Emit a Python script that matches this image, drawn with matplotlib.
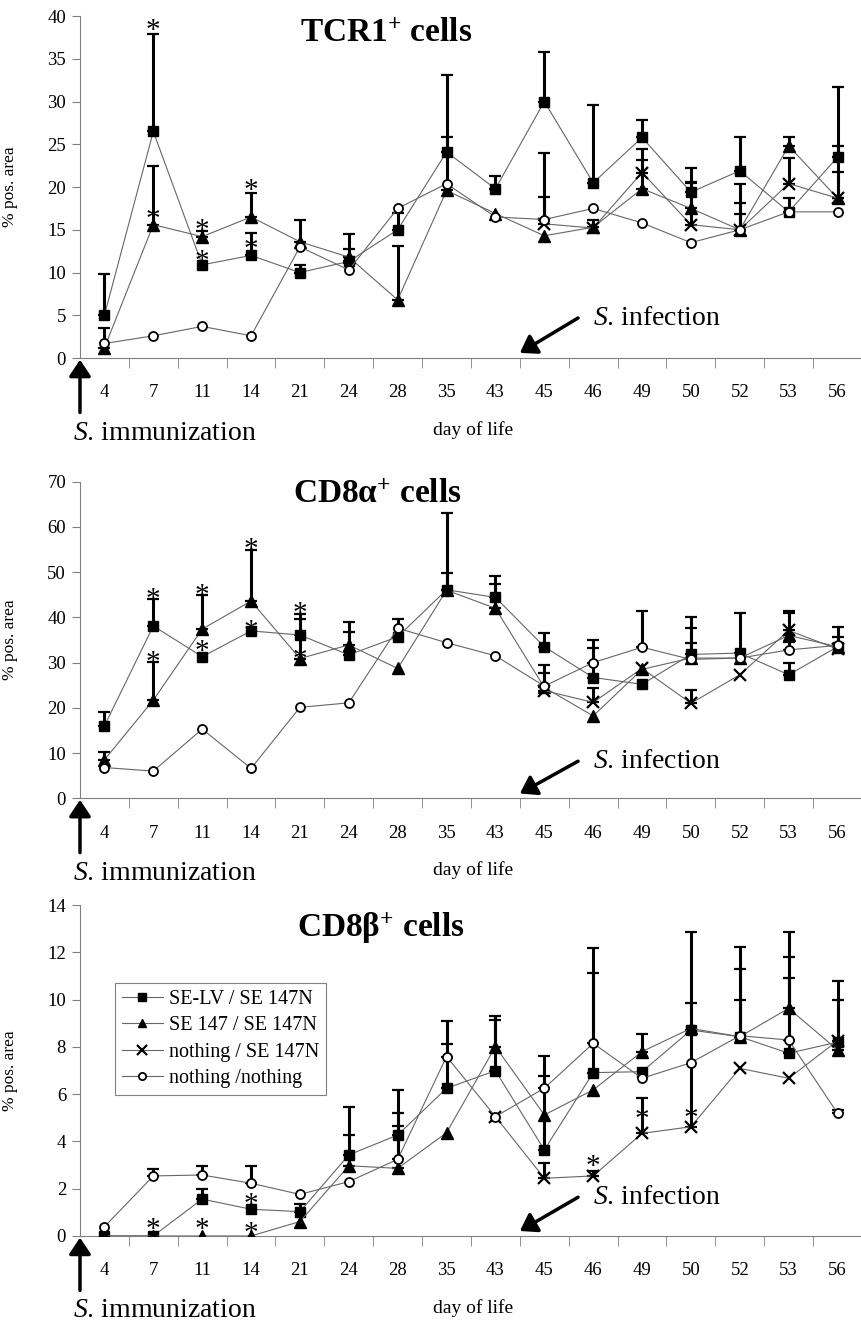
import numpy as np
import matplotlib
matplotlib.use('Agg')
import matplotlib.pyplot as plt

plt.rcParams['font.family'] = ['Liberation Serif', 'DejaVu Serif']
plt.rcParams['mathtext.fontset'] = 'custom'
plt.rcParams['mathtext.rm'] = 'Liberation Serif'
plt.rcParams['mathtext.it'] = 'Liberation Serif:italic'
plt.rcParams['mathtext.bf'] = 'Liberation Serif:bold'

nan = np.nan

days = ['4', '7', '11', '14', '21', '24', '28', '35', '43', '45', '46', '49', '50', '52', '53', '56']
groups = ['SE-LV / SE 147N', 'SE 147 / SE 147N', 'nothing / SE 147N', 'nothing /nothing']

# TCR1+ cells: means and upper error bar ends
tcr_selv = [5.0, 26.5, 10.9, 12.0, 10.0, 11.3, 15.0, 24.1, 19.8, 30.0, 20.5, 25.8, 19.4, 21.9, 17.1, 23.5]
tcr_selv_top = [9.8, 37.9, nan, 14.6, 10.9, 12.7, 17.0, 33.1, 21.3, 35.8, 29.6, 27.9, 22.2, 25.8, nan, 31.7]
tcr_se147 = [1.2, 15.6, 14.2, 16.5, 13.6, 11.8, 6.8, 19.6, 16.9, 14.3, 15.3, 19.8, 17.5, 15.0, 24.8, 18.7]
tcr_se147_top = [3.5, 22.5, 14.9, 19.3, 16.2, 14.5, 13.1, 25.8, nan, nan, 16.1, 23.2, 20.5, 20.4, 25.8, 24.8]
tcr_noth_se = [nan] * 9 + [15.7, 15.2, 21.7, 15.6, 15.0, 20.4, 18.7]
tcr_noth_se_top = [nan] * 9 + [24.0, nan, 24.5, 20.6, 18.1, 23.4, 21.8]
tcr_noth = [1.7, 2.6, 3.7, 2.6, 13.0, 10.3, 17.5, 20.4, 16.5, 16.2, 17.5, 15.8, 13.5, 15.0, 17.1, 17.1]
tcr_noth_top = [nan] * 9 + [18.8, nan, nan, nan, 16.9, 18.7, nan]
tcr_star_days = ['7', '7', '11', '11', '14', '14']
tcr_star_y = [39.5, 17.3, 16.1, 12.4, 20.8, 13.8]

# CD8alpha+ cells
cd8a_selv = [16.0, 38.1, 31.3, 37.0, 36.1, 31.7, 35.7, 46.1, 44.4, 33.5, 26.7, 25.2, 31.8, 32.1, 27.3, 33.5]
cd8a_selv_top = [19.1, 44.0, nan, nan, 40.7, 36.8, 39.6, 63.1, 49.1, 36.5, 35.0, nan, 40.0, 40.9, 30.0, 37.9]
cd8a_se147 = [8.5, 21.7, 37.4, 43.6, 30.9, 33.9, 28.7, 46.0, 42.0, 24.5, 18.2, 28.5, 31.0, 31.0, 36.0, 33.5]
cd8a_se147_top = [10.3, 30.2, 44.9, 55.0, 39.6, 39.0, nan, 49.7, 47.4, 29.5, nan, nan, 37.7, nan, 41.0, 35.7]
cd8a_noth_se = [nan] * 9 + [23.8, 21.2, 28.7, 21.0, 27.3, 37.1, 33.0]
cd8a_noth_se_top = [nan] * 9 + [27.6, 24.4, nan, 23.9, nan, 41.3, nan]
cd8a_noth = [6.8, 6.0, 15.3, 6.6, 20.1, 21.1, 37.6, 34.4, 31.5, 24.8, 30.0, 33.4, 30.7, 31.0, 32.8, 33.8]
cd8a_noth_top = [nan] * 10 + [33.2, 41.4, 34.3, nan, 34.6, nan]
cd8a_star_days = ['7', '7', '11', '11', '14', '14', '21', '21']
cd8a_star_y = [46.1, 32.1, 47.0, 34.6, 57.1, 39.0, 43.1, 32.9]

# CD8beta+ cells
cd8b_selv = [0.0, 0.0, 1.56, 1.13, 1.03, 3.43, 4.27, 6.25, 6.99, 3.64, 6.91, 6.95, 8.71, 8.43, 7.73, 8.2]
cd8b_selv_top = [nan, nan, 1.97, nan, 1.35, 5.47, 6.18, 9.10, 9.14, 7.61, 12.17, nan, 9.84, 12.24, 12.87, nan]
cd8b_se147 = [0.0, 0.0, 0.0, 0.0, 0.61, 2.97, 2.86, 4.37, 8.01, 5.12, 6.18, 7.80, 8.78, 8.43, 9.63, 7.87]
cd8b_se147_top = [nan] * 5 + [4.27, 5.22, nan, 9.31, nan, nan, 8.54, nan, 9.98, 10.90, 10.0]
cd8b_noth_se = [nan] * 8 + [5.05, 2.44, 2.54, 4.34, 4.62, 7.09, 6.67, 8.26]
cd8b_noth_se_top = [nan] * 8 + [nan, 3.07, 2.75, 5.82, 12.87, nan, nan, 10.79]
cd8b_noth = [0.39, 2.54, 2.58, 2.23, 1.76, 2.30, 3.24, 7.59, 5.05, 6.25, 8.15, 6.67, 7.33, 8.47, 8.29, 5.19]
cd8b_noth_top = [nan, 2.83, 2.97, 2.97, nan, nan, 4.67, 8.11, nan, 6.77, 11.14, nan, nan, 11.3, 11.82, 5.35]
cd8b_star_days = ['7', '11', '14', '14', '46', '49', '50']
cd8b_star_y = [0.68, 0.68, 1.73, 0.54, 3.35, 5.33, 5.40]

styles = [
    dict(marker='s', ms=7, mfc='k', mec='k'),
    dict(marker='^', ms=8, mfc='k', mec='k'),
    dict(marker='x', ms=8.5, mec='k', mew=1.6),
    dict(marker='o', ms=6.5, mfc='white', mec='k', mew=1.3),
]
GRAY = '#808080'


def draw_panel(ax, title, title_pos, vals, tops, star_days, star_y, ymax, ystep):
    x = np.arange(len(days))
    for v, t in zip(vals, tops):
        v = np.array(v, float)
        t = np.array(t, float)
        ok = ~np.isnan(t)
        ax.errorbar(x[ok], v[ok], yerr=[np.zeros(ok.sum()), t[ok] - v[ok]], fmt='none',
                    ecolor='k', elinewidth=2.2, capsize=4, capthick=1.6, zorder=2)
    for v, st, lab in zip(vals, styles, groups):
        ax.plot(x, v, color='#666666', lw=0.8, zorder=3, label=lab, **st)

    # significance asterisks
    for d, y in zip(star_days, star_y):
        ax.annotate('*', (days.index(d), y), xytext=(0, -12.5), textcoords='offset points',
                    ha='center', va='baseline', fontsize=21, zorder=4)

    ax.set_xlim(-0.5, len(days) - 0.5)
    ax.set_ylim(0, ymax)
    ax.set_yticks(np.arange(0, ymax + ystep / 2, ystep))
    ax.set_xticks(x)
    ax.set_xticklabels(days)
    ax.set_xticks(np.arange(0.5, len(days) - 1, 1), minor=True)
    ax.tick_params(axis='x', which='major', length=0, pad=19, labelsize=13.5)
    ax.tick_params(axis='x', which='minor', length=7, color=GRAY, direction='out')
    ax.tick_params(axis='y', length=6, color=GRAY, pad=4, labelsize=13.5)
    for s in ['top', 'right']:
        ax.spines[s].set_visible(False)
    ax.spines['left'].set_color(GRAY)
    ax.spines['bottom'].set_color(GRAY)
    ax.set_ylabel('% pos. area', fontsize=12.5)
    ax.yaxis.set_label_coords(-0.079, 0.5)

    ax.text(title_pos[0], title_pos[1], title, transform=ax.transAxes, ha='left', va='baseline',
            fontsize=24, fontweight='bold')

    # immunization arrow and label
    ax.annotate('', xy=(0, -0.005), xycoords='axes fraction', xytext=(0, -38), textcoords='offset points',
                arrowprops=dict(arrowstyle='-|>,head_length=0.45,head_width=0.3', lw=2.5, color='k',
                                mutation_scale=22, shrinkA=0, shrinkB=0), annotation_clip=False)
    ax.annotate(r'$\mathit{S}$. immunization', xy=(0, 0), xycoords='axes fraction', xytext=(-5, -54),
                textcoords='offset points', ha='left', va='center', fontsize=20, annotation_clip=False)
    ax.annotate('day of life', xy=(0.503, 0), xycoords='axes fraction', xytext=(0, -52),
                textcoords='offset points', ha='center', va='center', fontsize=14, annotation_clip=False)

    # infection arrow and label
    ax.annotate('', xy=(8.5, 0.015 * ymax), xycoords='data', xytext=(9.69, 0.117 * ymax),
                arrowprops=dict(arrowstyle='-|>,head_length=0.45,head_width=0.3', lw=2.5, color='k',
                                mutation_scale=22, shrinkA=0, shrinkB=0))
    ax.text(10.0, 0.117 * ymax, r'$\mathit{S}$. infection', ha='left', va='center', fontsize=20)


fig = plt.figure(figsize=(8.62, 13.28), dpi=100)
ax1 = fig.add_axes([0.0928, 0.7304, 0.9072, 0.2575])
ax2 = fig.add_axes([0.0928, 0.3989, 0.9072, 0.2384])
ax3 = fig.add_axes([0.0928, 0.0693, 0.9072, 0.2492])

draw_panel(ax1, r'TCR1$^{\mathbf{+}}$ cells', (0.281, 0.924),
           [tcr_selv, tcr_se147, tcr_noth_se, tcr_noth],
           [tcr_selv_top, tcr_se147_top, tcr_noth_se_top, tcr_noth_top],
           tcr_star_days, tcr_star_y, 40, 5)
draw_panel(ax2, r'CD8α$^{\mathbf{+}}$ cells', (0.273, 0.933),
           [cd8a_selv, cd8a_se147, cd8a_noth_se, cd8a_noth],
           [cd8a_selv_top, cd8a_se147_top, cd8a_noth_se_top, cd8a_noth_top],
           cd8a_star_days, cd8a_star_y, 70, 10)
draw_panel(ax3, r'CD8β$^{\mathbf{+}}$ cells', (0.277, 0.903),
           [cd8b_selv, cd8b_se147, cd8b_noth_se, cd8b_noth],
           [cd8b_selv_top, cd8b_se147_top, cd8b_noth_se_top, cd8b_noth_top],
           cd8b_star_days, cd8b_star_y, 14, 2)

leg = ax3.legend(loc='upper left', bbox_to_anchor=(0.045, 0.764), borderaxespad=0, fontsize=14.5,
                 labelspacing=0.35, handlelength=2.0, handletextpad=0.3, borderpad=0.35,
                 fancybox=False, framealpha=1, markerscale=0.8)
leg.get_frame().set_edgecolor(GRAY)
leg.get_frame().set_linewidth(0.8)

fig.savefig('out.png', dpi=100)
